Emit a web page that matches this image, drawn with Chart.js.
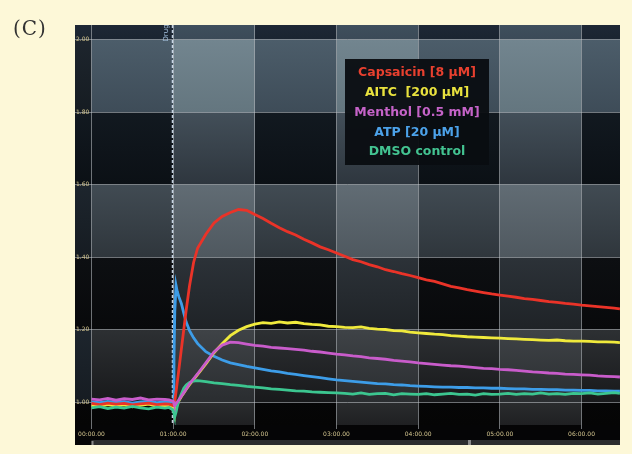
<!DOCTYPE html>
<html>
<head>
<meta charset="utf-8">
<script src="https://cdn.jsdelivr.net/npm/chart.js@4.4.0/dist/chart.umd.min.js"></script>
<style>
  html, body { margin: 0; padding: 0; background: #fdf8d8; }
  #wrap { position: relative; width: 632px; height: 454px; }
  #panel { position: absolute; left: 13px; top: 16px; font: 20px "DejaVu Serif", serif; color: #333; letter-spacing: 1px; }
</style>
</head>
<body>
<div id="wrap">
  <canvas id="tracesChart" width="632" height="454"></canvas>
  <div id="panel">(C)</div>
</div>
<script>
// time in minutes
const times = [0, 0.1, 0.2, 0.3, 0.4, 0.5, 0.6, 0.7, 0.8, 0.9, 0.95,
  1.0, 1.01, 1.02, 1.035, 1.05, 1.07, 1.1, 1.13, 1.16, 1.2, 1.25, 1.3,
  1.4, 1.5, 1.6, 1.7, 1.8, 1.9, 2.0, 2.1, 2.2, 2.3, 2.4, 2.5, 2.6, 2.7, 2.8, 2.9,
  3.0, 3.1, 3.2, 3.3, 3.4, 3.5, 3.6, 3.7, 3.8, 3.9, 4.0, 4.1, 4.2, 4.3, 4.4, 4.5,
  4.6, 4.7, 4.8, 4.9, 5.0, 5.1, 5.2, 5.3, 5.4, 5.5, 5.6, 5.7, 5.8, 5.9, 6.0,
  6.1, 6.2, 6.3, 6.4, 6.47];

const capsaicin = [0.996, 0.993, 0.997, 0.994, 0.996, 0.992, 0.995, 0.997, 0.993, 0.995, 0.994,
  0.990, 0.995, 1.003, 1.028, 1.055, 1.090, 1.145, 1.200, 1.255, 1.320, 1.385, 1.425,
  1.463, 1.494, 1.512, 1.523, 1.531, 1.529, 1.517, 1.506, 1.493, 1.481, 1.470, 1.461, 1.449, 1.439, 1.428, 1.420,
  1.411, 1.402, 1.393, 1.387, 1.379, 1.373, 1.365, 1.360, 1.354, 1.349, 1.343, 1.337, 1.333, 1.326, 1.319, 1.315,
  1.310, 1.306, 1.302, 1.298, 1.295, 1.292, 1.289, 1.285, 1.283, 1.280, 1.277, 1.275, 1.272, 1.270, 1.267,
  1.265, 1.263, 1.261, 1.259, 1.257];

const aitc = [0.991, 0.988, 0.993, 0.989, 0.992, 0.987, 0.991, 0.994, 0.988, 0.990, 0.989,
  0.984, 0.975, 0.970, 0.982, 0.993, 1.003, 1.015, 1.025, 1.035, 1.048, 1.062, 1.076,
  1.105, 1.136, 1.161, 1.183, 1.198, 1.208, 1.215, 1.219, 1.217, 1.221, 1.218, 1.220, 1.216, 1.214, 1.213, 1.209,
  1.208, 1.206, 1.205, 1.207, 1.203, 1.201, 1.200, 1.197, 1.196, 1.193, 1.191, 1.189, 1.187, 1.186, 1.183, 1.182,
  1.180, 1.179, 1.178, 1.177, 1.176, 1.175, 1.174, 1.173, 1.172, 1.171, 1.170, 1.171, 1.169, 1.168, 1.168,
  1.167, 1.166, 1.166, 1.165, 1.164];

const menthol = [1.008, 1.006, 1.010, 1.005, 1.009, 1.007, 1.011, 1.006, 1.008, 1.007, 1.006,
  1.002, 0.995, 0.990, 0.995, 1.000, 1.006, 1.016, 1.026, 1.036, 1.050, 1.064, 1.078,
  1.108, 1.138, 1.157, 1.165, 1.164, 1.160, 1.156, 1.154, 1.151, 1.149, 1.147, 1.145, 1.143, 1.140, 1.138, 1.135,
  1.132, 1.130, 1.127, 1.125, 1.122, 1.120, 1.118, 1.115, 1.113, 1.111, 1.108, 1.106, 1.104, 1.102, 1.100, 1.099,
  1.097, 1.095, 1.093, 1.092, 1.090, 1.089, 1.087, 1.085, 1.083, 1.082, 1.080, 1.079, 1.077, 1.076, 1.075,
  1.074, 1.072, 1.071, 1.070, 1.069];

const atp = [1.000, 0.998, 1.002, 0.999, 1.001, 0.997, 1.000, 1.002, 0.998, 1.000, 0.999,
  1.000, 1.120, 1.250, 1.322, 1.305, 1.290, 1.272, 1.245, 1.220, 1.197, 1.177, 1.161,
  1.139, 1.126, 1.116, 1.108, 1.103, 1.098, 1.094, 1.090, 1.086, 1.083, 1.079, 1.076, 1.073, 1.070, 1.067, 1.064,
  1.061, 1.059, 1.057, 1.055, 1.053, 1.051, 1.050, 1.048, 1.047, 1.045, 1.044, 1.043, 1.042, 1.041, 1.041, 1.040,
  1.040, 1.039, 1.039, 1.038, 1.038, 1.037, 1.036, 1.036, 1.035, 1.035, 1.034, 1.034, 1.033, 1.033, 1.032,
  1.032, 1.031, 1.031, 1.030, 1.030];

const dmso = [0.984, 0.987, 0.982, 0.986, 0.983, 0.988, 0.984, 0.981, 0.986, 0.983, 0.985,
  0.978, 0.968, 0.960, 0.972, 0.988, 1.005, 1.022, 1.038, 1.047, 1.054, 1.058, 1.059,
  1.056, 1.053, 1.051, 1.048, 1.046, 1.043, 1.041, 1.039, 1.036, 1.035, 1.033, 1.031, 1.030, 1.028, 1.027, 1.026,
  1.025, 1.024, 1.022, 1.025, 1.021, 1.023, 1.024, 1.020, 1.023, 1.022, 1.021, 1.023, 1.020, 1.022, 1.024, 1.021,
  1.022, 1.019, 1.023, 1.021, 1.022, 1.024, 1.021, 1.023, 1.022, 1.025, 1.022, 1.023, 1.021, 1.024, 1.023,
  1.025, 1.022, 1.024, 1.026, 1.024];

const seriesLabels = ['Capsaicin [8 µM]', 'AITC  [200 µM]', 'Menthol [0.5 mM]', 'ATP [20 µM]', 'DMSO control'];
const xTicks = [0, 1, 2, 3, 4, 5, 6];
const xTickLabels = ['00:00.00', '01:00.00', '02:00.00', '03:00.00', '04:00.00', '05:00.00', '06:00.00'];
const yTicks = [1.0, 1.2, 1.4, 1.6, 1.8, 2.0];
const yTickLabels = ['1.00', '1.20', '1.40', '1.60', '1.80', '2.00'];
const drugTime = 1.0;

const lineColors = ['#ea3328', '#f0ea3c', '#c95ccb', '#3d9de8', '#3cc690'];
const textColors = ['#e8402f', '#e9e23e', '#c563c8', '#4ca2ea', '#43c391'];

function pts(vals) {
    return vals.map((v, i) => ({ x: times[i], y: v }));
}

// tile colours [top, bottom] per row band; N = plain, C = column lit, R = row lit, B = both
const tiles = [
    { N: ['#1e2835', '#1a2430'], C: ['#3f4f5d', '#3b4a57'] },
    { R: ['#4c5d6a', '#3e4c58'], B: ['#72858f', '#64767f'] },
    { N: ['#121920', '#0b1015'], C: ['#434f59', '#2e363e'] },
    { R: ['#414b53', '#2f363c'], B: ['#616c74', '#4f585f'] },
    { N: ['#0d0f12', '#08090b'], C: ['#2c3238', '#1f2327'] },
    { R: ['#2d3033', '#18191b'], B: ['#3f4347', '#2a2d30'] },
    { N: ['#060607', '#050505'], C: ['#2a2c2e', '#1f2022'] }
];

const backdrop = {
    id: 'backdrop',
    beforeDraw(chart) {
        const { ctx, chartArea: a, scales: { x, y } } = chart;
        ctx.save();
        ctx.fillStyle = '#050506';
        ctx.fillRect(a.left, a.top, a.right - a.left, a.bottom + 20 - a.top);
        const cols = [a.left].concat(xTicks.map(t => x.getPixelForValue(t)), [a.right]);
        const rows = [a.top].concat(yTicks.slice().reverse().map(v => y.getPixelForValue(v)), [a.bottom]);
        for (let r = 0; r < rows.length - 1; r++) {
            for (let c = 0; c < cols.length - 1; c++) {
                const rowLit = r % 2 === 1;
                let pair;
                if (c === 0) {
                    pair = rowLit ? ['#1d252d', '#161c22'] : tiles[r].N;
                } else {
                    const colLit = (c - 1) % 2 === 1;
                    const key = rowLit ? (colLit ? 'B' : 'R') : (colLit ? 'C' : 'N');
                    pair = tiles[r][key];
                }
                const g = ctx.createLinearGradient(0, rows[r], 0, rows[r + 1]);
                g.addColorStop(0, pair[0]);
                g.addColorStop(1, pair[1]);
                ctx.fillStyle = g;
                ctx.fillRect(cols[c], rows[r], cols[c + 1] - cols[c], rows[r + 1] - rows[r]);
            }
        }
        // scroll bar strip below the time labels
        const x0 = x.getPixelForValue(0);
        ctx.fillStyle = '#2c2d2e';
        ctx.fillRect(x0, a.bottom + 15, a.right - x0, 5);
        ctx.fillStyle = '#8a8a8a';
        ctx.fillRect(468, a.bottom + 15, 3, 5);
        ctx.fillRect(x0, a.bottom + 16, 2, 4);
        ctx.restore();
    },
    beforeDatasetsDraw(chart) {
        const { ctx, chartArea: a, scales: { x } } = chart;
        const px = Math.round(x.getPixelForValue(drugTime)) - 0.5;
        ctx.save();
        ctx.strokeStyle = 'rgba(215,230,245,0.9)';
        ctx.lineWidth = 1.5;
        ctx.setLineDash([3, 2]);
        ctx.beginPath();
        ctx.moveTo(px, a.top);
        ctx.lineTo(px, a.bottom);
        ctx.stroke();
        ctx.translate(px - 6, a.top + 8);
        ctx.rotate(-Math.PI / 2);
        ctx.fillStyle = '#a9c6e3';
        ctx.font = '7px "DejaVu Sans"';
        ctx.textAlign = 'center';
        ctx.textBaseline = 'middle';
        ctx.fillText('Drug', 0, 0);
        ctx.restore();
    },
    afterDatasetsDraw(chart) {
        const { ctx } = chart;
        ctx.save();
        ctx.fillStyle = 'rgba(10,13,17,0.95)';
        ctx.fillRect(345, 59, 144, 106);
        ctx.font = 'bold 12.5px "DejaVu Sans"';
        ctx.textAlign = 'center';
        ctx.textBaseline = 'middle';
        seriesLabels.forEach((t, i) => {
            ctx.fillStyle = textColors[i];
            ctx.fillText(t, 417, 73 + i * 19.8);
        });
        ctx.restore();
    }
};

const gridColor = 'rgba(195,200,205,0.55)';
const tickColor = '#d3c58f';

const ctx1 = document.getElementById('tracesChart').getContext('2d');
const tracesChart = new Chart(ctx1, {
    type: 'line',
    data: {
        datasets: [
            { label: seriesLabels[0], data: pts(capsaicin), borderColor: lineColors[0], order: 3 },
            { label: seriesLabels[1], data: pts(aitc), borderColor: lineColors[1], order: 4 },
            { label: seriesLabels[2], data: pts(menthol), borderColor: lineColors[2], order: 1 },
            { label: seriesLabels[3], data: pts(atp), borderColor: lineColors[3], order: 5 },
            { label: seriesLabels[4], data: pts(dmso), borderColor: lineColors[4], order: 2 }
        ]
    },
    options: {
        responsive: false,
        animation: false,
        datasets: { line: { borderWidth: 2.8, pointRadius: 0, tension: 0, fill: false } },
        layout: { padding: { left: 75, top: 25, right: 12, bottom: 9 } },
        plugins: { legend: { display: false }, tooltip: { enabled: false } },
        scales: {
            x: {
                type: 'linear',
                min: -0.202,
                max: 6.471,
                afterBuildTicks: s => { s.ticks = xTicks.map(v => ({ value: v })); },
                afterFit: s => { s.height = 20; },
                border: { display: false },
                grid: { color: gridColor, lineWidth: 1, tickLength: 4 },
                ticks: {
                    color: tickColor,
                    font: { size: 6, family: 'DejaVu Sans' },
                    padding: 2,
                    maxRotation: 0,
                    autoSkip: false,
                    callback: (v, i) => xTickLabels[i]
                }
            },
            y: {
                min: 0.9366,
                max: 2.04,
                afterBuildTicks: s => { s.ticks = yTicks.map(v => ({ value: v })); },
                afterFit: s => { s.width = 0; },
                border: { display: false },
                grid: { color: gridColor, lineWidth: 1, drawTicks: false },
                ticks: {
                    mirror: true,
                    color: tickColor,
                    font: { size: 6, family: 'DejaVu Sans' },
                    padding: 1,
                    callback: (v, i) => yTickLabels[i]
                }
            }
        }
    },
    plugins: [backdrop]
});
</script>
</body>
</html>
